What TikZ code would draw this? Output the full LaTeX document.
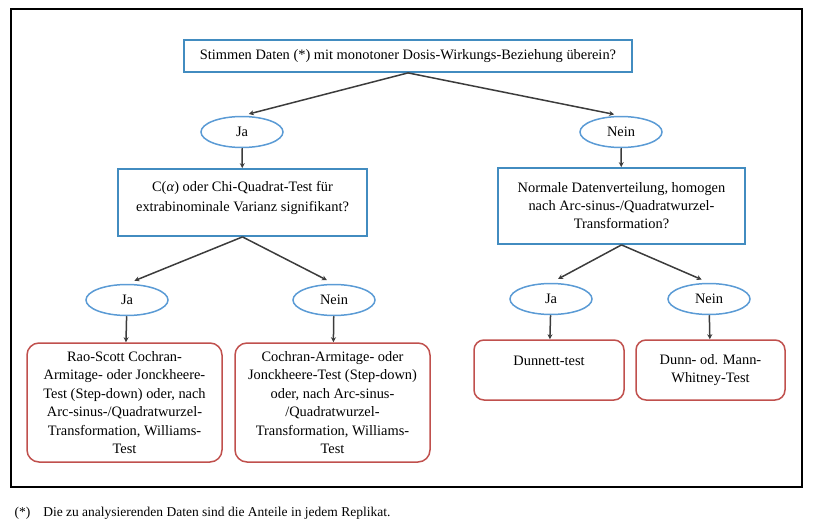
\documentclass[tikz,border=0pt]{standalone}
\usepackage{fontspec}
\setmainfont{Liberation Serif}
\usetikzlibrary{shapes.geometric,arrows.meta}
\definecolor{rahmenblau}{RGB}{66,140,192}
\definecolor{ovalblau}{RGB}{91,155,213}
\definecolor{testrot}{RGB}{192,80,77}
\definecolor{linie}{RGB}{60,60,60}

\begin{document}
\begin{tikzpicture}[x=1pt,y=-1pt,
  schrift/.style={font=\fontsize{14.4}{18}\selectfont},
  frage/.style={schrift,draw=rahmenblau,line width=1.8pt,align=center,inner sep=0pt},
  antwort/.style={schrift,ellipse,draw=ovalblau,line width=1.5pt,minimum width=82pt,minimum height=31pt,inner sep=0pt},
  ergebnis/.style={font=\fontsize{14.4}{18.4}\selectfont,draw=testrot,line width=1.5pt,rounded corners=12pt,align=center,inner sep=0pt},
  pfeil/.style={draw=linie,line width=1.5pt,-{Stealth[length=5pt,width=5pt]}}]

\useasboundingbox (0,0) rectangle (814,527);
\draw[line width=2pt] (11,9) rectangle (802,487);

% Fragen
\node[frage,minimum width=448pt,minimum height=32pt] (frage1) at (408,56) {Stimmen Daten (*) mit monotoner Dosis-Wirkungs-Beziehung überein?};
\node[frage,font=\fontsize{14.4}{20}\selectfont,minimum width=249pt,minimum height=67pt] (frage2) at (242.5,202.5) {C(\textit{α}) oder Chi-Quadrat-Test für\\extrabinominale Varianz signifikant?\\[-8pt]\mbox{}};
\node[frage,minimum width=247pt,minimum height=76pt] (frage3) at (621.5,206) {Normale Datenverteilung, homogen\\nach Arc-sinus-/Quadratwurzel-\\Transformation?};

% Antworten
\foreach \name/\pos/\text in {ja1/{(242,132)}/Ja, nein1/{(621,132)}/Nein, ja2/{(127,300)}/Ja, nein2/{(334,300)}/Nein, ja3/{(551,299)}/Ja, nein3/{(709,299)}/Nein}
  \node[antwort] (\name) at \pos {\text};

% Tests
\node[ergebnis,minimum width=195pt,minimum height=119pt] (test1) at (124.5,402.5) {Rao-Scott Cochran-\\Armitage- oder Jonckheere-\\Test (Step-down) oder, nach\\Arc-sinus-/Quadratwurzel-\\Transformation, Williams-\\Test};
\node[ergebnis,minimum width=195pt,minimum height=119pt] (test2) at (332.5,402.5) {Cochran-Armitage- oder\\Jonckheere-Test (Step-down)\\oder, nach Arc-sinus-\\/Quadratwurzel-\\Transformation, Williams-\\Test};
\node[ergebnis,rounded corners=10pt,minimum width=150pt,minimum height=60pt] (test3) at (549,370) {Dunnett-test\\\mbox{}};
\node[ergebnis,rounded corners=10pt,minimum width=149pt,minimum height=60pt] (test4) at (710.5,370) {Dunn- od. Mann-\\Whitney-Test};

% Verbindungen
\draw[pfeil,shorten >=7pt] (frage1.south) -- (ja1.north);
\draw[pfeil,shorten >=7pt] (frage1.south) -- (nein1.north);
\draw[pfeil,shorten >=8pt] (frage2.south) -- (ja2.north);
\draw[pfeil,shorten >=8pt] (frage2.south) -- (nein2.north);
\draw[pfeil,shorten >=8pt] (frage3.south) -- (ja3.north);
\draw[pfeil,shorten >=8pt] (frage3.south) -- (nein3.north);
\foreach \von/\nach in {ja1/frage2, nein1/frage3, ja2/test1, nein2/test2, ja3/test3, nein3/test4}
  \draw[pfeil] (\von) -- (\nach);

\node[anchor=west,font=\fontsize{13.5}{16}\selectfont] (fussnote) at (11,513) {(*)\hspace{13pt}Die zu analysierenden Daten sind die Anteile in jedem Replikat.};

\end{tikzpicture}
\end{document}
